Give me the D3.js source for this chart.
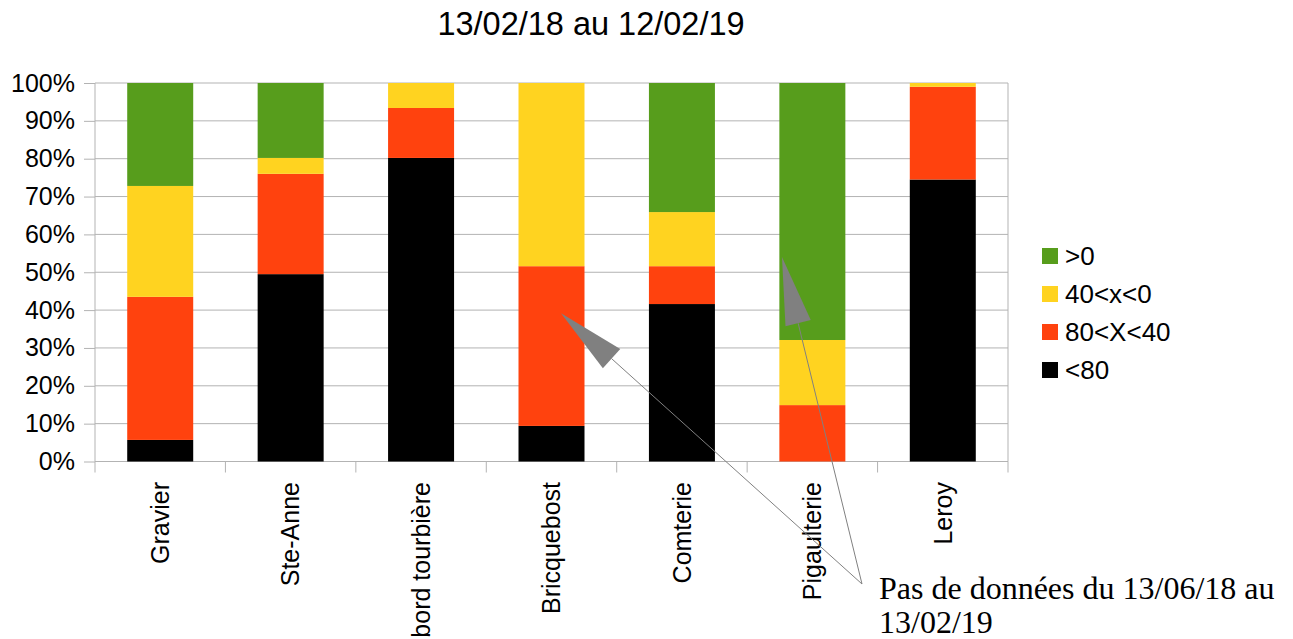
<!DOCTYPE html>
<html>
<head>
<meta charset="utf-8">
<script src="https://cdn.jsdelivr.net/npm/d3@7"></script>
<style>
  html, body { margin: 0; padding: 0; background: #fff; }
  svg { display: block; }
  text { font-family: "Liberation Sans", Arial, sans-serif; fill: #000; }
</style>
</head>
<body>
<svg id="chart" width="1293" height="639"></svg>
<script>
// Sites and the share of each class per site (percent of the period)
const sites = ["Gravier", "Ste-Anne", "bord tourbière", "Bricquebost", "Comterie", "Pigaulterie", "Leroy"];
const classes = ["<80", "80<X<40", "40<x<0", ">0"];
const under80   = [5.7, 49.5, 80.2, 9.4, 41.6, 0.0, 74.5];
const from80to40 = [37.8, 26.5, 13.2, 42.2, 10.0, 14.9, 24.5];
const from40to0 = [29.3, 4.2, 6.6, 48.4, 14.3, 17.2, 1.0];
const over0     = [27.2, 19.8, 0.0, 0.0, 34.1, 67.9, 0.0];
const classColors = ["#000000", "#ff420e", "#ffd320", "#579d1c"];
const yTicks = [0, 0.1, 0.2, 0.3, 0.4, 0.5, 0.6, 0.7, 0.8, 0.9, 1.0];
const title = "13/02/18 au 12/02/19";
const noteLines = ["Pas de données du 13/06/18 au", "13/02/19"];
// Arrow targets of the note: site, offset within the band (in steps), value
const noteTargets = [
  { site: "Bricquebost", offset: 0.073, value: 0.392 },
  { site: "Pigaulterie", offset: -0.233, value: 0.540 }
];

const rows = sites.map((s, i) => ({
  site: s,
  "<80": under80[i],
  "80<X<40": from80to40[i],
  "40<x<0": from40to0[i],
  ">0": over0[i]
}));

const svg = d3.select("#chart");
const plot = { left: 95, right: 1008, top: 83, bottom: 461.5 };

const x = d3.scaleBand()
  .domain(sites)
  .range([plot.left, plot.right])
  .paddingInner(0.494)
  .paddingOuter(0.247);

const y = d3.scaleLinear().domain([0, 1]).range([plot.bottom, plot.top]);
const color = d3.scaleOrdinal().domain(classes).range(classColors);

const series = d3.stack().keys(classes).offset(d3.stackOffsetExpand)(rows);

// Title
svg.append("text")
  .attr("x", 591).attr("y", 35)
  .attr("text-anchor", "middle")
  .style("font-size", "32.5px")
  .text(title);

// Horizontal grid lines with outer ticks
const yAxis = d3.axisLeft(y)
  .tickValues(yTicks)
  .tickFormat(d3.format(".0%"))
  .tickSize(11)
  .tickPadding(9);

const yG = svg.append("g")
  .attr("transform", `translate(${plot.left},0)`)
  .call(yAxis);
yG.select(".domain").remove();
yG.selectAll(".tick line").attr("stroke", "#b3b3b3");
yG.selectAll(".tick text").style("font-size", "25px").attr("fill", "#000");

svg.append("g")
  .selectAll("line")
  .data(yTicks)
  .join("line")
  .attr("x1", plot.left).attr("x2", plot.right)
  .attr("y1", d => y(d)).attr("y2", d => y(d))
  .attr("stroke", "#b3b3b3").attr("stroke-width", 1);

// Plot frame sides
svg.append("g").selectAll("line")
  .data([plot.left, plot.right])
  .join("line")
  .attr("x1", d => d).attr("x2", d => d)
  .attr("y1", plot.top).attr("y2", plot.bottom)
  .attr("stroke", "#b3b3b3");

// Category boundary ticks below the axis
const step = x.step();
const boundaries = d3.range(sites.length + 1).map(i => plot.left + i * step);
svg.append("g").selectAll("line")
  .data(boundaries)
  .join("line")
  .attr("x1", d => d).attr("x2", d => d)
  .attr("y1", plot.bottom).attr("y2", plot.bottom + 11)
  .attr("stroke", "#b3b3b3");

// Stacked bars
svg.append("g")
  .selectAll("g")
  .data(series)
  .join("g")
  .attr("fill", d => color(d.key))
  .selectAll("rect")
  .data(d => d)
  .join("rect")
  .attr("x", d => x(d.data.site))
  .attr("width", x.bandwidth())
  .attr("y", d => y(d[1]))
  .attr("height", d => y(d[0]) - y(d[1]));

// Rotated category labels
svg.append("g")
  .selectAll("text")
  .data(sites)
  .join("text")
  .attr("transform", d => `translate(${x(d) + x.bandwidth() / 2},482) rotate(-90)`)
  .attr("text-anchor", "end")
  .attr("dy", "0.35em")
  .style("font-size", "25px")
  .text(d => d);

// Legend
const legend = svg.append("g").attr("transform", "translate(1042,248)");
const legendItems = classes.slice().reverse();
const li = legend.selectAll("g")
  .data(legendItems)
  .join("g")
  .attr("transform", (d, i) => `translate(0,${i * 38})`);
li.append("rect")
  .attr("width", 16).attr("height", 16)
  .attr("fill", d => color(d));
li.append("text")
  .attr("x", 23).attr("y", 8)
  .attr("dy", "0.35em")
  .style("font-size", "26px")
  .text(d => d);

// Note with arrows
const origin = [862, 584];
const arrowLen = 68, arrowHalf = 13;
const note = svg.append("g");
noteTargets.forEach(t => {
  const tx = x(t.site) + x.bandwidth() / 2 + t.offset * step;
  const ty = y(t.value);
  const dx = origin[0] - tx, dy = origin[1] - ty;
  const len = Math.hypot(dx, dy);
  const ux = dx / len, uy = dy / len;
  const bx = tx + ux * arrowLen, by = ty + uy * arrowLen;
  note.append("line")
    .attr("x1", origin[0]).attr("y1", origin[1])
    .attr("x2", bx).attr("y2", by)
    .attr("stroke", "#808080").attr("stroke-width", 1);
  note.append("path")
    .attr("d", `M${tx},${ty} L${bx - uy * arrowHalf},${by + ux * arrowHalf} L${bx + uy * arrowHalf},${by - ux * arrowHalf} Z`)
    .attr("fill", "#808080");
});
note.append("text")
  .style("font-family", "'Liberation Serif', 'Times New Roman', serif")
  .style("font-size", "32px")
  .selectAll("tspan")
  .data(noteLines)
  .join("tspan")
  .attr("x", 879)
  .attr("y", (d, i) => 599 + i * 34)
  .text(d => d);
</script>
</body>
</html>
